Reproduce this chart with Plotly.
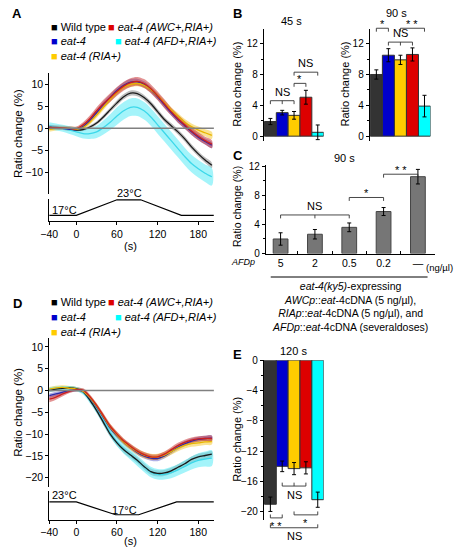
import plotly.graph_objects as go

W, H = 456, 555
FONT = "Liberation Sans, Arial, Helvetica, sans-serif"

# ---------------- data ----------------
t = [-40, -30, -20, -10, 0, 10, 20, 30, 40, 50, 60, 70, 80, 90, 100, 110, 120, 130, 140, 150, 160, 170, 180, 190, 200]

# Panel A (warming 17 -> 23 C)
A_wt = [0.2, 0.1, 0.0, -0.1, -0.4, -0.3, 0.3, 1.2, 2.6, 4.2, 5.8, 7.2, 8.0, 7.9, 7.0, 5.6, 3.8, 2.0, 0.6, -0.8, -2.4, -4.2, -5.8, -7.2, -8.4]
A_red = [0.3, 0.2, 0.1, 0.0, -0.1, 0.8, 2.2, 4.0, 5.6, 7.0, 8.4, 9.6, 10.4, 10.7, 10.2, 9.0, 7.4, 5.6, 3.8, 2.2, 0.8, -0.6, -1.8, -2.8, -3.6]
A_blue = [0.2, 0.1, 0.0, -0.2, -0.3, 0.4, 1.8, 3.6, 5.4, 7.0, 8.6, 9.8, 10.5, 10.6, 10.0, 8.8, 7.2, 5.4, 3.6, 2.0, 0.6, -0.8, -2.0, -3.0, -3.8]
A_yel = [-0.3, 0.0, 0.1, 0.0, -0.2, 0.2, 1.4, 3.0, 4.8, 6.6, 8.2, 9.4, 10.0, 10.2, 9.8, 8.8, 7.4, 5.8, 4.2, 2.8, 1.4, 0.4, -0.4, -1.0, -1.6]
A_cyan = [0.6, 0.3, 0.0, -0.4, -0.8, -1.2, -1.2, -0.8, 0.2, 1.4, 2.8, 4.0, 4.8, 4.8, 4.0, 2.6, 0.8, -1.0, -2.8, -4.6, -6.4, -8.0, -9.2, -10.2, -11.0]
A_wt_sem = [0.3, 0.3, 0.3, 0.3, 0.3, 0.3, 0.4, 0.4, 0.5, 0.5, 0.6, 0.6, 0.6, 0.6, 0.6, 0.6, 0.6, 0.6, 0.6, 0.6, 0.6, 0.6, 0.6, 0.6, 0.6]
A_red_sem = [0.5, 0.5, 0.5, 0.5, 0.5, 0.6, 0.7, 0.8, 0.9, 1.0, 1.0, 1.0, 1.0, 1.0, 1.0, 1.0, 1.0, 1.0, 0.9, 0.9, 0.9, 0.9, 0.9, 0.9, 0.9]
A_blue_sem = [0.3, 0.3, 0.3, 0.3, 0.3, 0.4, 0.5, 0.6, 0.7, 0.7, 0.7, 0.7, 0.7, 0.7, 0.7, 0.7, 0.7, 0.7, 0.7, 0.7, 0.7, 0.7, 0.7, 0.7, 0.7]
A_yel_sem = [0.5, 0.5, 0.5, 0.5, 0.5, 0.5, 0.5, 0.6, 0.6, 0.6, 0.6, 0.6, 0.6, 0.6, 0.6, 0.6, 0.6, 0.6, 0.6, 0.7, 0.7, 0.7, 0.8, 0.8, 0.8]
A_cyan_sem = [0.8, 0.8, 0.8, 0.9, 1.0, 1.1, 1.2, 1.4, 1.6, 1.8, 2.0, 2.0, 2.0, 2.0, 2.0, 2.0, 2.0, 2.0, 2.0, 2.0, 2.0, 2.0, 2.0, 2.0, 2.0]

# Panel D (cooling 23 -> 17 C)
D_wt = [0.0, 0.3, 0.5, 0.6, 0.4, -0.3, -2.2, -4.6, -7.3, -10.0, -12.0, -13.6, -14.8, -16.0, -17.4, -18.6, -19.0, -18.9, -18.4, -17.6, -16.8, -15.8, -15.2, -14.9, -14.6]
D_cyan = [0.2, 0.4, 0.5, 0.5, 0.3, -0.4, -2.2, -4.4, -7.0, -9.6, -11.8, -13.4, -14.8, -16.1, -17.5, -18.7, -19.2, -19.2, -18.8, -18.2, -17.4, -16.6, -16.0, -15.7, -15.5]
D_blue = [-1.2, -0.8, -0.4, 0.0, 0.1, -0.2, -1.8, -3.8, -6.2, -8.6, -10.4, -11.8, -13.0, -14.2, -15.0, -15.5, -15.6, -15.0, -14.0, -13.0, -12.2, -11.6, -11.2, -11.0, -10.9]
D_red = [-2.0, -1.5, -0.8, -0.2, 0.2, 0.1, -1.4, -3.4, -5.8, -8.2, -10.0, -11.6, -12.8, -13.9, -14.7, -15.2, -15.2, -14.6, -13.6, -12.6, -11.9, -11.4, -11.1, -11.0, -11.0]
D_yel = [0.3, 0.6, 0.7, 0.5, 0.3, -0.2, -1.6, -3.6, -6.0, -8.4, -10.2, -11.8, -13.0, -14.0, -14.8, -15.2, -15.2, -14.8, -14.0, -13.2, -12.6, -12.2, -12.0, -11.8, -11.7]
D_wt_sem = [0.4, 0.4, 0.4, 0.4, 0.4, 0.4, 0.5, 0.5, 0.6, 0.6, 0.6, 0.7, 0.7, 0.7, 0.7, 0.7, 0.7, 0.7, 0.7, 0.7, 0.7, 0.7, 0.7, 0.7, 0.7]
D_cyan_sem = [0.5, 0.5, 0.5, 0.5, 0.5, 0.6, 0.7, 0.8, 0.9, 1.0, 1.0, 1.1, 1.1, 1.2, 1.2, 1.2, 1.2, 1.2, 1.3, 1.3, 1.4, 1.5, 1.6, 1.7, 1.8]
D_blue_sem = [0.5, 0.5, 0.4, 0.4, 0.4, 0.4, 0.5, 0.5, 0.6, 0.6, 0.6, 0.6, 0.6, 0.6, 0.6, 0.6, 0.6, 0.6, 0.6, 0.6, 0.6, 0.6, 0.6, 0.6, 0.6]
D_red_sem = [0.7, 0.6, 0.5, 0.4, 0.4, 0.4, 0.5, 0.5, 0.6, 0.6, 0.6, 0.6, 0.6, 0.6, 0.6, 0.6, 0.6, 0.6, 0.6, 0.6, 0.6, 0.6, 0.6, 0.6, 0.6]
D_yel_sem = [0.5, 0.5, 0.5, 0.5, 0.5, 0.5, 0.5, 0.6, 0.6, 0.7, 0.7, 0.7, 0.7, 0.7, 0.7, 0.7, 0.7, 0.7, 0.7, 0.7, 0.7, 0.7, 0.7, 0.7, 0.7]

# temperature programs
tempA_t = [-40, 0, 60, 95, 155, 203]
tempA = [17, 17, 23, 23, 17, 17]
tempD_t = [-40, 0, 58, 92, 148, 203]
tempD = [23, 23, 17, 17, 23, 23]

x_ticks_time = [-40, 0, 60, 120, 180]

# Bar panels
genotypes = ["Wild type", "eat-4", "eat-4 (RIA+)", "eat-4 (AWC+,RIA+)", "eat-4 (AFD+,RIA+)"]
B45 = [1.9, 3.05, 2.7, 5.05, 0.5]
B45_err = [0.4, 0.3, 0.5, 0.9, 0.95]
B90 = [8.0, 10.5, 9.9, 10.6, 3.9]
B90_err = [0.6, 0.85, 0.6, 0.85, 1.4]
C_labels = ["5", "2", "0.5", "0.2", "—"]
C_vals = [2.0, 2.65, 3.6, 5.77, 10.56]
C_err = [0.85, 0.65, 0.6, 0.55, 1.0]
E_vals = [-19.0, -14.0, -14.3, -14.2, -18.4]
E_err = [0.95, 0.7, 0.8, 0.8, 1.0]

bar_colors = ["#333333", "#0000cc", "#ffcc00", "#dd0000", "#00ffff"]
line_colors = ["#1a1a1a", "#2a2aa8", "#e8b400", "#cc1f1f", "#3cd8ea"]
band_colors = ["rgba(110,110,110,0.45)", "rgba(80,80,200,0.45)", "rgba(245,200,40,0.5)",
               "rgba(200,40,40,0.5)", "rgba(90,235,245,0.55)"]

# ---------------- layout geometry (pixels) ----------------
AX = {
    "A":  dict(n="", xd=(41, 209), yd=(68, 192), xr=(-40, 203), yr=(12.7, -14.9)),
    "At": dict(n="2", xd=(41, 209), yd=(197, 220), xr=(-40, 203), yr=(23.4, 14.75)),
    "B1": dict(n="3", xd=(260, 321), yd=(24, 138), xr=(-0.55, 4.5), yr=(13.84, -0.63)),
    "B2": dict(n="4", xd=(368, 430), yd=(24, 138), xr=(-0.55, 4.5), yr=(13.84, -0.63)),
    "C":  dict(n="5", xd=(262, 435), yd=(163, 253), xr=(-0.43, 4.51), yr=(12.1, 0)),
    "D":  dict(n="6", xd=(41, 209), yd=(339, 492), xr=(-40, 203), yr=(12.1, -22.2)),
    "Dt": dict(n="7", xd=(41, 209), yd=(496, 525), xr=(-40, 203), yr=(28.0, 14.7)),
    "E":  dict(n="8", xd=(260, 321), yd=(362, 525), xr=(-0.55, 4.5), yr=(0.0, -21.03)),
}


def to_px(key, xv, yv):
    a = AX[key]
    x = a["xd"][0] + (xv - a["xr"][0]) / (a["xr"][1] - a["xr"][0]) * (a["xd"][1] - a["xd"][0])
    y = a["yd"][0] + (yv - a["yr"][0]) / (a["yr"][1] - a["yr"][0]) * (a["yd"][1] - a["yd"][0])
    return x, y


def PX(x):
    return x / W


def PY(y):
    return 1 - y / H


fig = go.Figure()


def axnames(key):
    n = AX[key]["n"]
    return "x" + n, "y" + n


# ---------------- time-series panels ----------------
def ts_panel(key, series, sems):
    xa, ya = axnames(key)
    for i, (s, e) in enumerate(zip(series, sems)):
        up = [v + d for v, d in zip(s, e)]
        lo = [v - d for v, d in zip(s, e)]
        fig.add_trace(go.Scatter(x=t + t[::-1], y=up + lo[::-1], fill="toself",
                                 fillcolor=band_colors[i], line=dict(width=0, shape="spline"),
                                 mode="lines", hoverinfo="skip", showlegend=False,
                                 xaxis=xa, yaxis=ya))
    order = [4, 0, 1, 2, 3]
    for i in order:
        fig.add_trace(go.Scatter(x=t, y=series[i], mode="lines",
                                 line=dict(color=line_colors[i], width=1.3, shape="spline", smoothing=0.8),
                                 name=genotypes[i], showlegend=False, xaxis=xa, yaxis=ya))


# order: WT, eat-4, RIA+, AWC+RIA+, AFD+RIA+
ts_panel("A", [A_wt, A_blue, A_yel, A_red, A_cyan],
         [A_wt_sem, A_blue_sem, A_yel_sem, A_red_sem, A_cyan_sem])
ts_panel("D", [D_wt, D_blue, D_yel, D_red, D_cyan],
         [D_wt_sem, D_blue_sem, D_yel_sem, D_red_sem, D_cyan_sem])

for key, tt, tv in [("At", tempA_t, tempA), ("Dt", tempD_t, tempD)]:
    xa, ya = axnames(key)
    fig.add_trace(go.Scatter(x=tt, y=tv, mode="lines", line=dict(color="black", width=1.2),
                             showlegend=False, hoverinfo="skip", xaxis=xa, yaxis=ya))


# ---------------- bar panels ----------------
def bar_panel(key, xs, vals, errs, colors, width, outline, names):
    xa, ya = axnames(key)
    fig.add_trace(go.Bar(x=xs, y=vals, width=width,
                         marker=dict(color=colors, line=dict(color=outline, width=1)),
                         error_y=dict(type="data", array=errs, color="black", thickness=1, width=2),
                         showlegend=False, cliponaxis=False, xaxis=xa, yaxis=ya,
                         hovertext=names))


idx = list(range(5))
bar_panel("B1", idx, B45, B45_err, bar_colors, 1.0, "#333333", genotypes)
bar_panel("B2", idx, B90, B90_err, bar_colors, 1.0, "#333333", genotypes)
bar_panel("C", C_labels, C_vals, C_err, "#767676", 0.43, "#454545", C_labels)
bar_panel("E", idx, E_vals, E_err, bar_colors, 1.0, "#333333", genotypes)

# ---------------- axes ----------------
tickfont_ts = dict(family=FONT, size=10.5, color="black")
tickfont_bar = dict(family=FONT, size=10, color="black")
layout_axes = {}
for key, a in AX.items():
    n = a["n"]
    xname = "xaxis" + n
    yname = "yaxis" + n
    layout_axes[xname] = dict(domain=[PX(a["xd"][0]), PX(a["xd"][1])], range=list(a["xr"]),
                              anchor="y" + n, showgrid=False, zeroline=False, visible=False,
                              fixedrange=True)
    layout_axes[yname] = dict(domain=[PY(a["yd"][1]), PY(a["yd"][0])], range=[a["yr"][1], a["yr"][0]],
                              anchor="x" + n, showgrid=False, zeroline=False, showline=True,
                              linecolor="black", linewidth=1, ticks="outside", ticklen=3,
                              tickcolor="black", tickfont=tickfont_bar, fixedrange=True)

layout_axes["yaxis"].update(tickvals=[-10, -5, 0, 5, 10], tickfont=tickfont_ts)
layout_axes["yaxis6"].update(tickvals=[-20, -15, -10, -5, 0, 5, 10], tickfont=tickfont_ts)
for yn in ["yaxis2", "yaxis7"]:
    layout_axes[yn].update(ticks="", showticklabels=False)
for xn in ["xaxis2", "xaxis7"]:
    layout_axes[xn].update(visible=True, showline=True, linecolor="black", linewidth=1,
                           ticks="outside", ticklen=3, tickcolor="black",
                           tickvals=x_ticks_time, tickfont=tickfont_ts)
minor = dict(ticks="outside", ticklen=2, tickcolor="black", dtick=2, showgrid=False)
for yn in ["yaxis3", "yaxis4", "yaxis5"]:
    layout_axes[yn].update(tick0=0, dtick=4, minor=minor)
layout_axes["yaxis8"].update(tick0=0, dtick=4, minor=minor)
layout_axes["xaxis5"].update(visible=True, type="category", categoryorder="array",
                             categoryarray=C_labels, showline=True, linecolor="black", linewidth=1,
                             ticks="inside", ticklen=3, tickcolor="black", tickson="boundaries",
                             tickfont=dict(family=FONT, size=10.5, color="black"))

shapes = []
annotations = []


def ann(x, y, text, size=11, xanchor="center", yanchor="middle", textangle=0, **kw):
    annotations.append(dict(x=PX(x), y=PY(y), xref="paper", yref="paper", text=text,
                            showarrow=False, xanchor=xanchor, yanchor=yanchor, textangle=textangle,
                            font=dict(family=FONT, size=size, color="black"), **kw))


def seg(x0, y0, x1, y1, color="#333333", width=0.9):
    shapes.append(dict(type="line", xref="paper", yref="paper", x0=PX(x0), y0=PY(y0),
                       x1=PX(x1), y1=PY(y1), line=dict(color=color, width=width)))


def bracket(key, i0, i1, yv, label, mids=(), down=True, tick=3.5, size=11, gap=1):
    xa, ya = to_px(key, i0, yv)
    xb, _ = to_px(key, i1, yv)
    seg(xa, ya, xb, ya)
    d = tick if down else -tick
    for i in [i0, i1] + list(mids):
        xi, _ = to_px(key, i, yv)
        seg(xi, ya, xi, ya + d)
    xm = (xa + xb) / 2
    if down:
        ann(xm, ya - gap, label, size=size, yanchor="bottom")
    else:
        ann(xm, ya + gap, label, size=size, yanchor="top")


# zero lines for time-series panels
for key in ["A", "D"]:
    x0, y0 = to_px(key, -40, 0)
    x1, _ = to_px(key, 203, 0)
    seg(x0, y0, x1, y0, color="#808080", width=1.5)

# brackets (stars sit high in their text box, hence negative gap)
bracket("B1", 0, 2, 4.6, "NS", mids=[1])
bracket("B1", 2, 3, 6.85, "*", gap=-4)
bracket("B1", 2, 4, 8.3, "NS")
bracket("B2", 0, 1, 14.0, "*", gap=-4)
bracket("B2", 1, 3, 12.2, "NS", mids=[2])
bracket("B2", 2, 4, 14.0, "* *", gap=-4)
bracket("C", 0, 2, 5.3, "NS", mids=[1])
bracket("C", 2, 3, 7.7, "*", gap=-4)
bracket("C", 3, 4, 10.9, "* *", gap=-4)
bracket("E", 1, 3, -16.6, "NS", mids=[2], down=False)
bracket("E", 0, 1, -20.8, "* *", down=False, gap=0)
bracket("E", 2, 4, -20.4, "*", down=False, gap=0)
bracket("E", 0, 4, -22.1, "NS", down=False, gap=0)

# panel letters
for L, x, y in [("A", 1, 8), ("B", 226, 8), ("C", 226, 153), ("D", 2, 304), ("E", 226, 356)]:
    ann(x, y, "<b>%s</b>" % L, size=13, xanchor="left")


# legends
def legend(y0):
    rows = [(41, y0, 0, "Wild type"), (99, y0, 3, "<i>eat-4 (AWC+,RIA+)</i>"),
            (41, y0 + 15, 1, "<i>eat-4</i>"), (106, y0 + 15, 4, "<i>eat-4 (AFD+,RIA+)</i>"),
            (41, y0 + 30, 2, "<i>eat-4 (RIA+)</i>")]
    for x, y, ci, txt in rows:
        ann(x, y, '<span style="color:%s">■</span> %s' % (bar_colors[ci] if ci else "#000000", txt),
            size=11, xanchor="left")


legend(21)
legend(303)

# y titles
ann(9, 130, "Ratio change (%)", size=11.5, textangle=-90)
ann(9, 415, "Ratio change (%)", size=11.5, textangle=-90)
ann(233, 80, "Ratio change (%)", size=11, textangle=-90)
ann(343, 80, "Ratio change (%)", size=11, textangle=-90)
ann(232, 205, "Ratio change (%)", size=10.5, textangle=-90)
ann(233, 443, "Ratio change (%)", size=11, textangle=-90)

# x titles and temperature labels
ann(124, 245, "(s)", size=11)
ann(124, 547, "(s)", size=11)
ann(42, 208, "17°C", size=11, xanchor="left")
ann(123, 191, "23°C", size=11)
ann(42, 500, "23°C", size=11, xanchor="left")
ann(118, 515, "17°C", size=11)

# bar panel titles
ann(288, 15, "45 s", size=11)
ann(395, 7, "90 s", size=11)
ann(342, 155, "90 s", size=11)
ann(290, 353, "120 s", size=11)

# panel C extras
ann(224, 262, "<i>AFDp</i>", size=9, xanchor="left")
ann(455, 267, "(ng/µl)", size=9.5, xanchor="right")
seg(267, 277, 427, 277, color="black", width=1)
ann(348, 307, "<i>eat-4(ky5)</i>-expressing<br><i>AWCp</i>::<i>eat</i>-4cDNA (5 ng/µl),<br>"
              "<i>RIAp</i>::<i>eat</i>-4cDNA (5 ng/µl), and<br><i>AFDp</i>::<i>eat</i>-4cDNA (severaldoses)",
    size=10.5)

fig.update_layout(width=W, height=H, margin=dict(l=0, r=0, t=0, b=0),
                  paper_bgcolor="white", plot_bgcolor="rgba(0,0,0,0)",
                  font=dict(family=FONT, size=11, color="black"),
                  showlegend=False, bargap=0, shapes=shapes, annotations=annotations,
                  **layout_axes)

# remove the browser's default 8px body margin so the figure sits at the window origin
fig.write_html("out.html", config={"displayModeBar": False, "staticPlot": True},
               post_script="document.body.style.margin='0px';document.body.style.overflow='hidden';")
